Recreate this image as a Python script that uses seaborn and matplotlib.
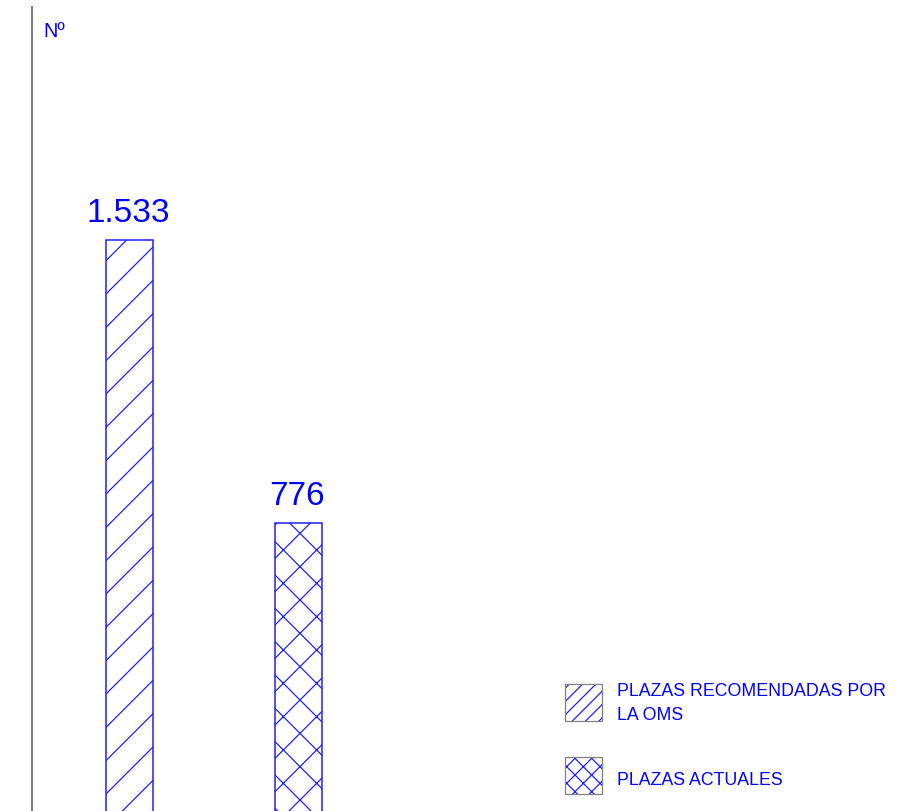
import matplotlib
matplotlib.use("Agg")
import matplotlib.pyplot as plt
from matplotlib.patches import Rectangle
import seaborn as sns
import pandas as pd

# ---- data ----
categories = ["PLAZAS RECOMENDADAS POR LA OMS", "PLAZAS ACTUALES"]
values = [1533, 776]
value_labels = ["1.533", "776"]
legend_labels = ["PLAZAS RECOMENDADAS POR\nLA OMS", "PLAZAS ACTUALES"]
bar_hatches = ["//", "xx"]
legend_hatches = ["/////", "xxxx"]
y_label = "Nº"

BLUE = "#0000ff"
LINE_BLUE = "#2020ff"
GRAY = "#808080"

W, H, DPI = 897, 811, 200
sns.set_style("white")
plt.rcParams["font.family"] = ["Liberation Sans", "DejaVu Sans"]
plt.rcParams["hatch.linewidth"] = 0.45
plt.rcParams["hatch.color"] = LINE_BLUE

fig = plt.figure(figsize=(W / DPI, H / DPI), dpi=DPI)
fig.patch.set_facecolor("white")

# axes: left spine at x=32px, top at y=7px, zero at y=813px
ax_left, ax_top, ax_zero = 32, 7, 813
ax = fig.add_axes([ax_left / W, (H - ax_zero) / H, (W - ax_left) / W, (ax_zero - ax_top) / H])

df = pd.DataFrame({"cat": categories, "val": values})
sns.barplot(data=df, x="cat", y="val", ax=ax, width=0.278, color="white",
            edgecolor=LINE_BLUE, linewidth=0.55, saturation=1)

for p, h in zip(ax.patches, bar_hatches):
    p.set_hatch(h)
    p.set_facecolor("white")
    p.set_edgecolor(LINE_BLUE)

px_per_unit = (ax_zero - 240) / 1533.0
ymax = (ax_zero - ax_top) / px_per_unit
ax.set_ylim(0, ymax)
px_per_cat = 169.0
x0 = 129.5
ax.set_xlim((ax_left - x0) / px_per_cat, (W - x0) / px_per_cat)

for i, (v, lab) in enumerate(zip(values, value_labels)):
    ax.text(i - 0.008, v + 18 / px_per_unit, lab, ha="center", va="baseline",
            fontsize=12, color=BLUE)

for s in ["top", "right", "bottom"]:
    ax.spines[s].set_visible(False)
ax.spines["left"].set_color(GRAY)
ax.spines["left"].set_linewidth(0.75)
ax.set_xticks([])
ax.set_yticks([])
ax.set_xlabel("")
ax.set_ylabel("")

fig.text(43 / W, 1 - 37 / H, y_label, ha="left", va="baseline", fontsize=7.2, color=BLUE)

# legend (manual)
patch_tops = [684, 757]
text_baselines = [[696, 720], [785]]
for top, lab, h, bls in zip(patch_tops, legend_labels, legend_hatches, text_baselines):
    r1 = Rectangle((565 / W, 1 - (top + 37) / H), 37 / W, 37 / H, transform=fig.transFigure,
                   facecolor="white", edgecolor=LINE_BLUE, hatch=h, linewidth=0)
    r2 = Rectangle((565 / W, 1 - (top + 37) / H), 37 / W, 37 / H, transform=fig.transFigure,
                   facecolor="none", edgecolor=GRAY, linewidth=0.45)
    fig.patches.extend([r1, r2])
    for line, bl in zip(lab.split("\n"), bls):
        fig.text(617 / W, 1 - bl / H, line, ha="left", va="baseline", fontsize=6.4, color=BLUE)

fig.savefig("out.png", dpi=DPI)
